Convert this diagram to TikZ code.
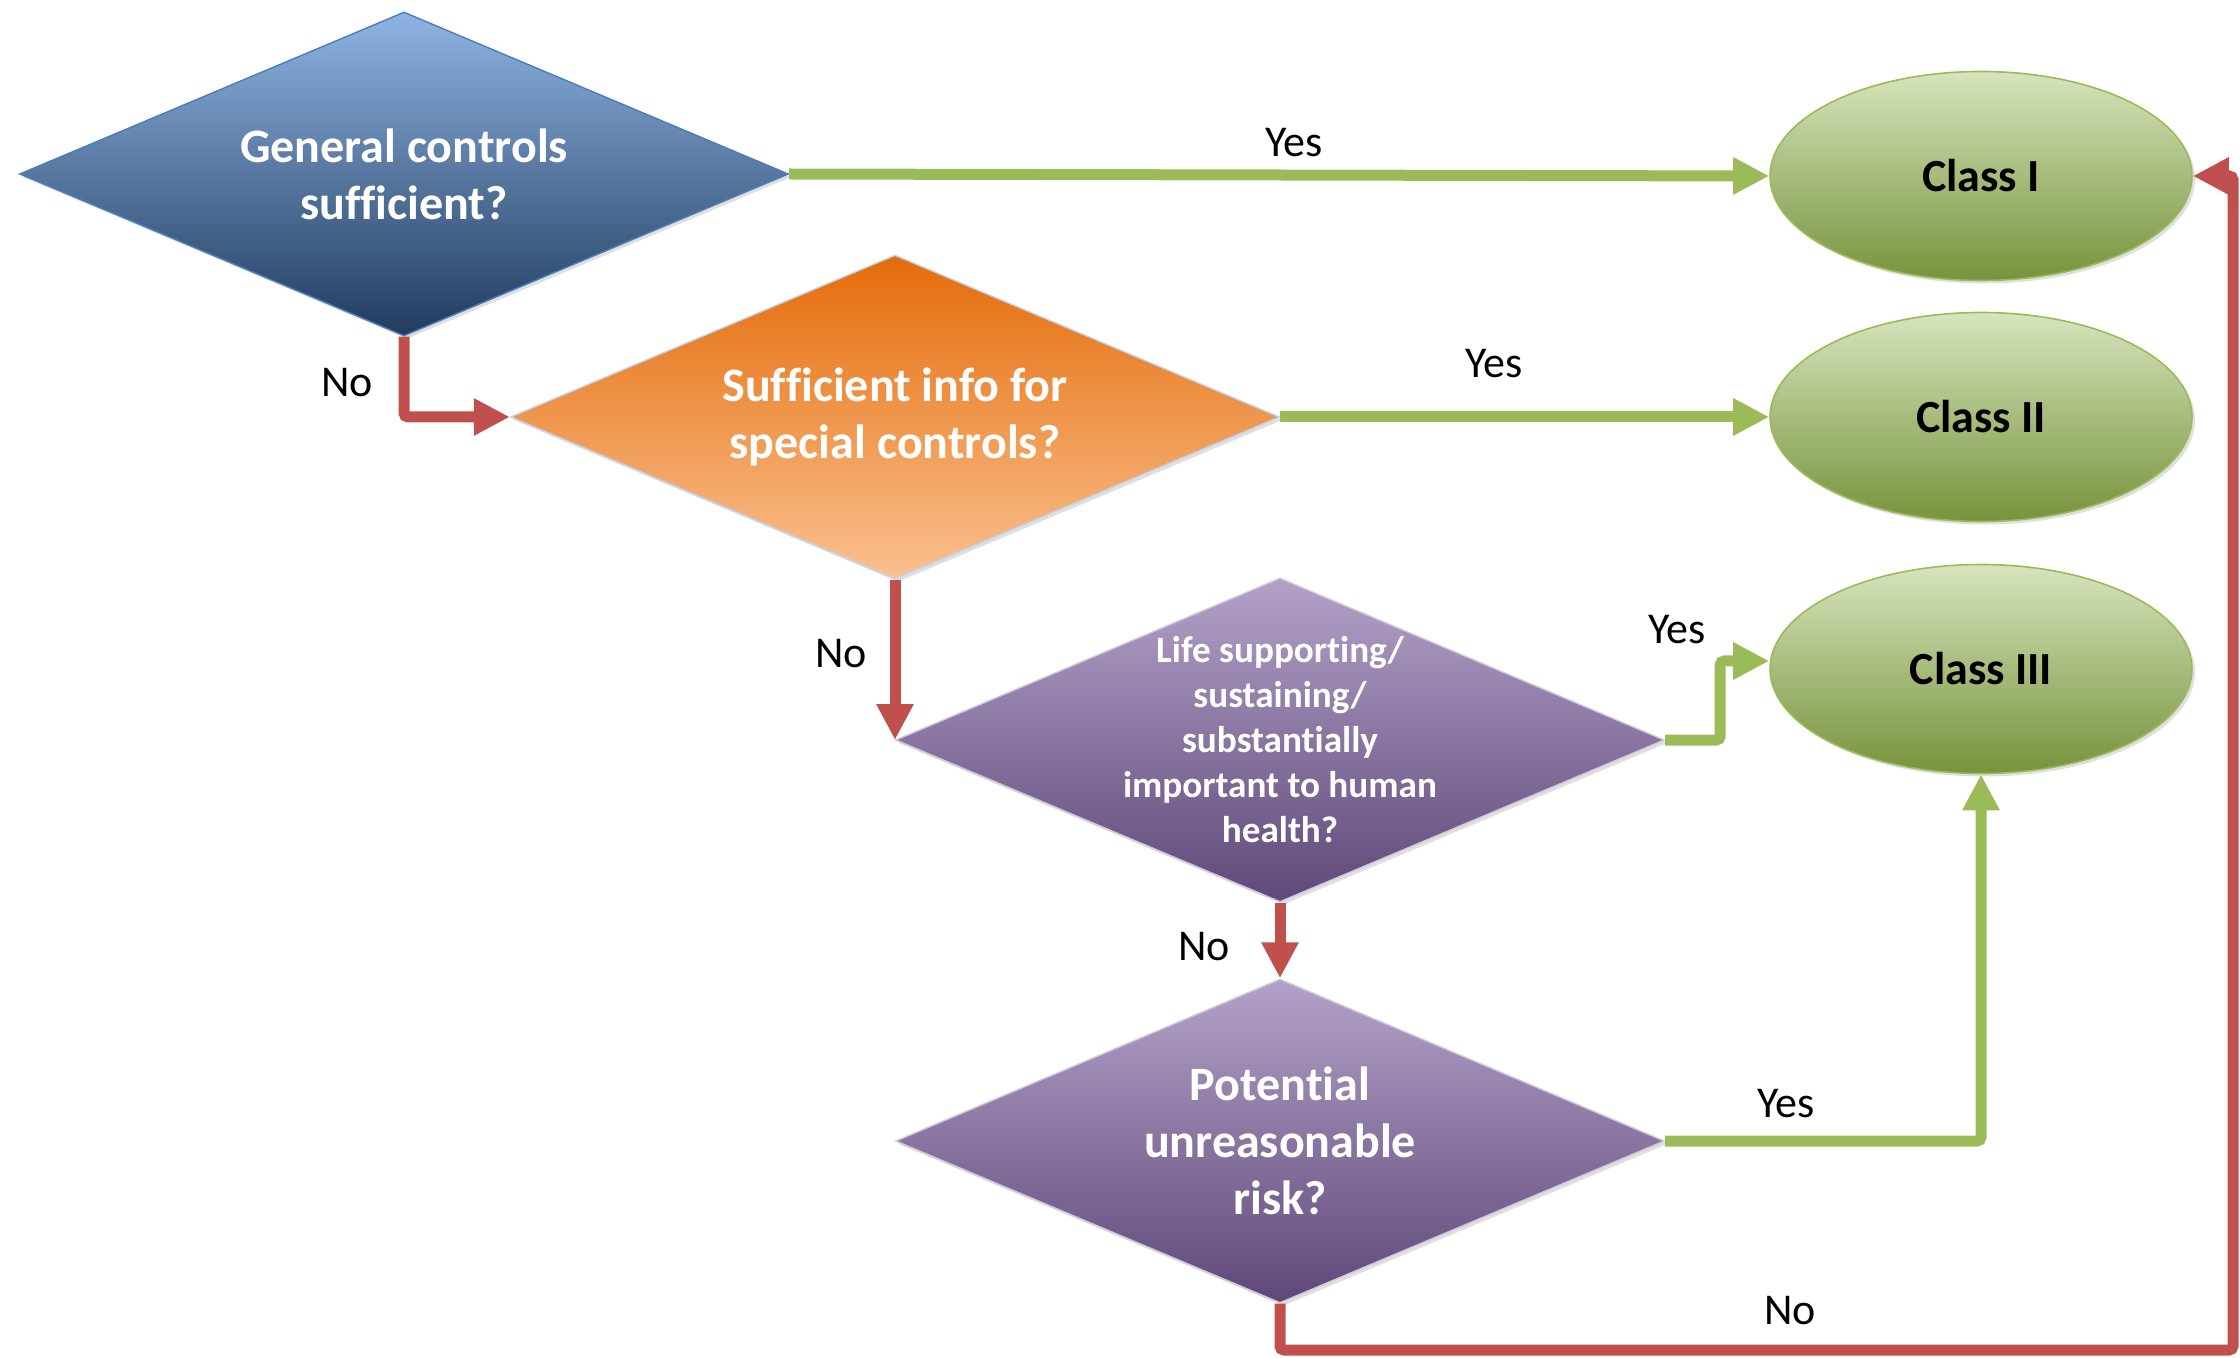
\documentclass[tikz,border=0pt]{standalone}
\usepackage{fontspec}
\setmainfont{Carlito}[RawFeature={-liga;-clig;-dlig;-calt}]
\usetikzlibrary{shapes.geometric, arrows.meta, shadows}

\definecolor{blueTop}{HTML}{8EB4E3}
\definecolor{blueBot}{HTML}{213B5E}
\definecolor{blueEdge}{HTML}{4A7EBB}
\definecolor{orgTop}{HTML}{E46C0A}
\definecolor{orgBot}{HTML}{FAC08F}
\definecolor{purTop}{HTML}{B3A2C7}
\definecolor{purBot}{HTML}{5F4879}
\definecolor{paleEdge}{HTML}{C3D2E8}
\definecolor{clsTop}{HTML}{D7E4BD}
\definecolor{clsBot}{HTML}{77933C}
\definecolor{clsEdge}{HTML}{9BBB59}
\definecolor{arrGreen}{HTML}{9BBB59}
\definecolor{arrRed}{HTML}{C0504D}

\begin{document}
\begin{tikzpicture}[x=0.5pt, y=-0.5pt, >={Triangle[length=18pt, width=17.5pt]},
  decide/.style={diamond, draw, line width=0.7pt, minimum width=384.5pt,
    minimum height=162pt, inner sep=0pt,
    drop shadow={opacity=0.25, shadow xshift=1.5pt, shadow yshift=-1.5pt}},
  qtext/.style={text=white, align=center, font=\bfseries\fontsize{24}{28.5}\selectfont},
  cls/.style={ellipse, draw=clsEdge, line width=0.8pt, top color=clsTop,
    bottom color=clsBot, minimum width=211pt, minimum height=104.5pt,
    font=\bfseries\fontsize{23}{28}\selectfont,
    drop shadow={opacity=0.25, shadow xshift=1.5pt, shadow yshift=-1.5pt}},
  yesline/.style={->, line width=5.5pt, arrGreen, rounded corners=2pt},
  noline/.style={->, line width=5.5pt, arrRed, rounded corners=2pt},
  lbl/.style={font=\fontsize{22}{26}\selectfont}]

  \useasboundingbox (0,0) rectangle (2240,1358);

  % --- 1. 判定ひし形 ---
  \node[decide, draw=blueEdge, top color=blueTop, bottom color=blueBot] (d1) at (404,174) {};
  \node[qtext] (d1txt) at (d1) {General controls\\sufficient?};

  \node[decide, draw=paleEdge, top color=orgTop, bottom color=orgBot] (d2) at (895,417) {};
  \node[qtext] (d2txt) at (d2) {Sufficient info for\\special controls?};

  \node[decide, draw=purTop!60!white, top color=purTop, bottom color=purBot] (d3) at (1280,740) {};
  \node[qtext, font=\bfseries\fontsize{18.6}{22.5}\selectfont] (d3txt) at (d3)
    {Life supporting/\\sustaining/\\substantially\\important to human\\health?};

  \node[decide, draw=purTop!60!white, top color=purTop, bottom color=purBot] (d4) at (1280,1141) {};
  \node[qtext] (d4txt) at (d4) {Potential\\unreasonable\\risk?};

  % --- 2. クラス (楕円) ---
  \node[cls] (c1) at (1981,176) {Class I};
  \node[cls] (c2) at (1981,417) {Class II};
  \node[cls] (c3) at (1981,669) {Class III};

  % --- 3. Yes の矢印 (緑) ---
  \draw[yesline] (d1.east) -- (c1.west);
  \draw[yesline] (d2.east) -- (c2.west);
  \draw[yesline] (d3.east) -- ++(55,0) |- ([yshift=4pt]c3.west);
  \draw[yesline] (d4.east) -| (c3.south);

  % --- 4. No の矢印 (赤) ---
  \coordinate (loop) at (2233,1350);
  \draw[noline] (d1.south) |- (d2.west);
  \draw[noline] (d2.south) -- (d2.south |- d3.west);
  \draw[noline] (d3.south) -- (d4.north);
  \draw[noline] (d4.south) |- (loop) |- (c1.east);

  % --- 5. ラベル ---
  \node[lbl] (y1) at (1294,143) {Yes};
  \node[lbl] (y2) at (1494,364) {Yes};
  \node[lbl] (y3) at (1677,630) {Yes};
  \node[lbl] (y4) at (1786,1104) {Yes};
  \node[lbl] (n1) at (347,383) {No};
  \node[lbl] (n2) at (841,654) {No};
  \node[lbl] (n3) at (1204,947) {No};
  \node[lbl] (n4) at (1790,1311) {No};

\end{tikzpicture}
\end{document}
